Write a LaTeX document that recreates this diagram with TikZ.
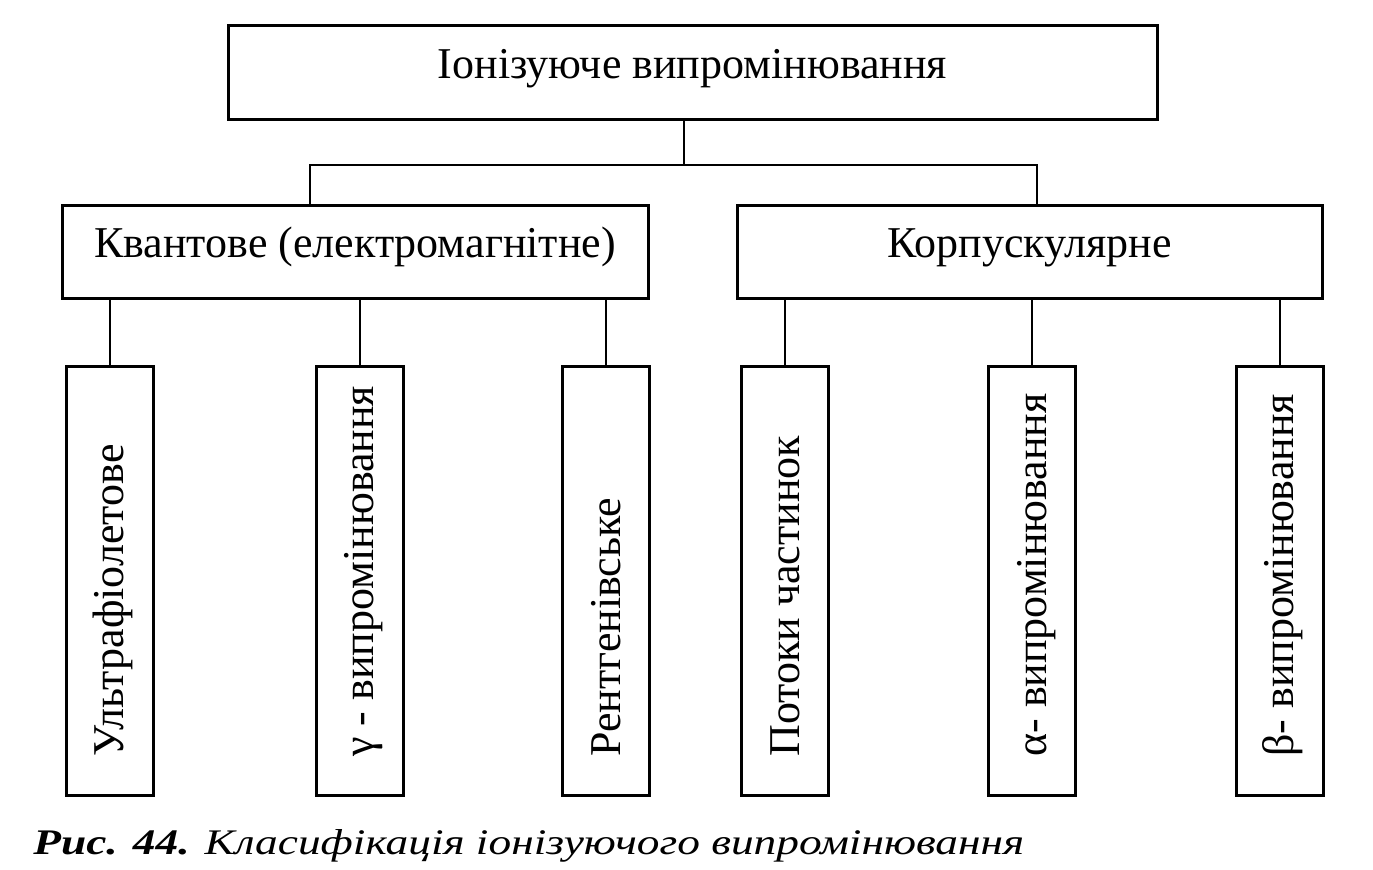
\documentclass[tikz,border=0pt]{standalone}
\usepackage{fontspec}
\usepackage{graphicx}
\setmainfont{Liberation Serif}
\begin{document}
\begin{tikzpicture}[x=0.5pt,y=-0.5pt,
  box/.style={draw=black, line width=1.5pt, inner sep=0pt},
  hbox/.style={box, font=\fontsize{22}{26}\selectfont, text height=0.7em, text depth=0.16em},
  vbox/.style={box, minimum width=43.5pt, minimum height=214.5pt},
  vtext/.style={rotate=90, anchor=base west, inner sep=0pt, font=\fontsize{22}{26}\selectfont},
  link/.style={line width=1pt, draw=black},
  caption/.style={anchor=base west, inner sep=0pt, font=\fontsize{18}{22}\selectfont\itshape}]
\useasboundingbox (0,0) rectangle (1373,870);
\fill[white] (0,0) rectangle (1373,870);

% boxes
\node[hbox, minimum width=464.5pt, minimum height=47pt] (top) at (692.5,73) {Іонізуюче випромінювання};
\node[hbox, minimum width=293pt, minimum height=46.5pt] (kv) at (355,252.5) {Квантове (електромагнітне)};
\node[hbox, minimum width=292.5pt, minimum height=46.5pt] (kp) at (1029.5,252.5) {Корпускулярне};

\node[vbox] (b1) at (109.5,581.5) {};
\node[vbox] (b2) at (359.5,581.5) {};
\node[vbox] (b3) at (606,581.5) {};
\node[vbox] (b4) at (785,581.5) {};
\node[vbox] (b5) at (1032,581.5) {};
\node[vbox] (b6) at (1279.5,581.5) {};

\node[vtext] (t1) at (123.5,757) {Ультрафіолетове};
\node[vtext] (t2) at (373.5,757) {γ - випромінювання};
\node[vtext] (t3) at (620,757) {Рентгенівське};
\node[vtext] (t4) at (799,757) {Потоки частинок};
\node[vtext] (t5) at (1046,757) {α- випромінювання};
\node[vtext] (t6) at (1293.5,757) {β- випромінювання};

% connectors
\coordinate (jt) at (684,165);
\coordinate (kvx) at (310,0);
\coordinate (kpx) at (1037,0);
\draw[link] (top.south -| jt) -- (jt) -| (kv.north -| kvx);
\draw[link] (jt) -| (kp.north -| kpx);
\foreach \b in {b1,b2,b3}{\draw[link] (kv.south -| \b.north) -- (\b.north);}
\foreach \b in {b4,b5,b6}{\draw[link] (kp.south -| \b.north) -- (\b.north);}

% caption
\node[caption] (cap) at (33,855) {\scalebox{1.26}[1]{\textbf{Рис. 44.} Класифікація іонізуючого випромінювання}};
\end{tikzpicture}
\end{document}
